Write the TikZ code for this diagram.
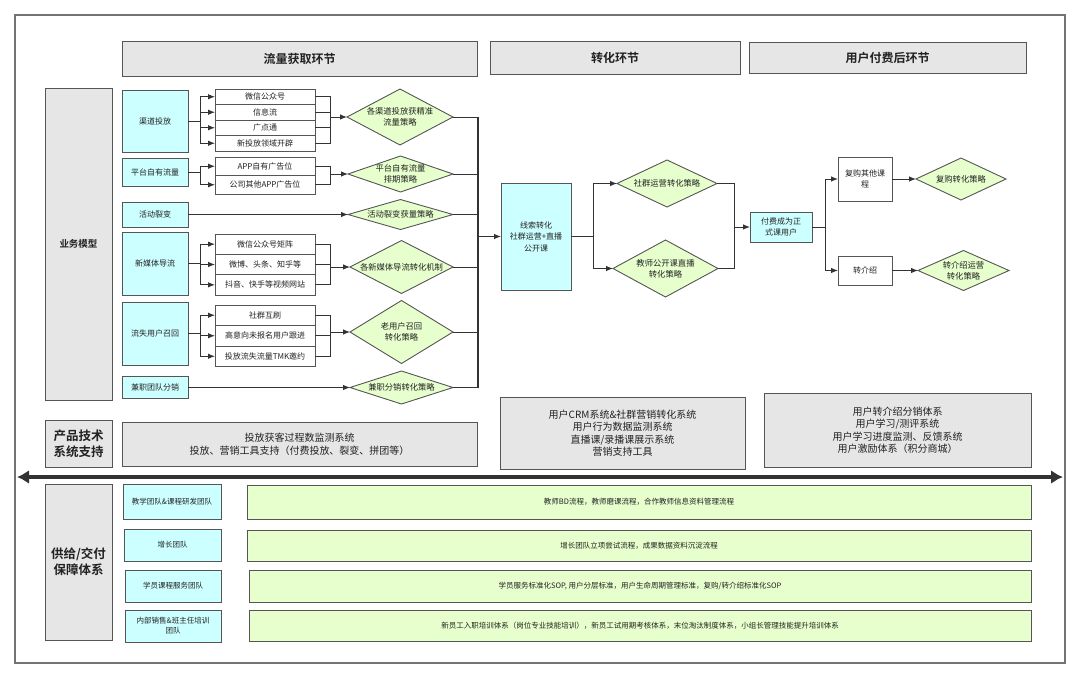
\documentclass[tikz,border=0pt]{standalone}
\usepackage{fontspec}
\setmainfont{Noto Sans CJK SC}[BoldFont=Noto Sans CJK SC Bold]
\usetikzlibrary{shapes.geometric,arrows.meta}
\definecolor{bd}{HTML}{555555}
\definecolor{lnc}{HTML}{333333}
\definecolor{cy}{HTML}{CCFFFF}
\definecolor{gr}{HTML}{E6FFCC}
\definecolor{gy}{HTML}{E6E6E6}
\definecolor{tx}{HTML}{222222}
\newcommand{\fsz}[2]{\fontsize{#1}{#2}\selectfont}
\tikzset{
  base/.style={draw=bd, line width=0.9pt, inner sep=1pt, outer sep=0pt, align=center, text=tx, font=\fsz{8}{11.5}},
  sz/.style 2 args={minimum width=#1pt, minimum height=#2pt},
  cyanbox/.style={base, fill=cy},
  whitebox/.style={base, fill=white},
  graybox/.style={base, fill=gy},
  greenbox/.style={base, fill=gr, font=\fsz{7.5}{9}},
  teambox/.style={base, fill=cy, font=\fsz{7.5}{10}},
  dia/.style={base, diamond, fill=gr, inner sep=0pt, font=\fsz{8.3}{10.8}},
  hdr/.style={graybox, font=\bfseries\fsz{12}{14}},
  ln/.style={draw=lnc, line width=0.9pt},
  arr/.style={ln, -{Latex[length=7pt,width=5.5pt]}},
}
\begin{document}
\begin{tikzpicture}[x=1pt,y=-1pt]
\useasboundingbox (0,0) rectangle (1080,678);
\draw[draw=gray!90!black, line width=1.1pt] (15,15) rectangle (1065,663);

% headers
\node[hdr, sz={355}{35}] (h1) at (299.5,58.5) {流量获取环节};
\node[hdr, sz={250}{33}] (h2) at (615,57.5) {转化环节};
\node[hdr, sz={277}{31}] (h3) at (887.5,57.5) {用户付费后环节};

% left labels
\node[graybox, sz={67}{312}, font=\bfseries\fsz{9.5}{12}] (bm) at (78.5,244) {业务模型};
\node[graybox, sz={67}{47}, font=\bfseries\fsz{12.5}{16}] (pt) at (78.5,443.5) {产品技术\\系统支持};
\node[graybox, sz={67}{156}, font=\bfseries\fsz{12.5}{16}] (gj) at (78.5,562) {供给/交付\\保障体系};

% group 1
\node[cyanbox, sz={66}{62}] (c1) at (155,121) {渠道投放};
\node[whitebox, sz={100}{15.5}] (s11) at (265,96.75) {微信公众号};
\node[whitebox, sz={100}{15.5}] (s12) at (265,112.25) {信息流};
\node[whitebox, sz={100}{15.5}] (s13) at (265,127.75) {广点通};
\node[whitebox, sz={100}{15.5}] (s14) at (265,143.25) {新投放领域开辟};
\node[dia, sz={106}{56}, aspect=1.89] (d1) at (400,117) {各渠道投放获精准\\流量策略};

% group 2
\node[cyanbox, sz={66}{28}] (c2) at (155,172) {平台自有流量};
\node[whitebox, sz={100}{18.5}] (s21) at (265,166.25) {APP自有广告位};
\node[whitebox, sz={100}{18.5}] (s22) at (265,184.75) {公司其他APP广告位};
\node[dia, sz={105}{36}, aspect=2.9] (d2) at (400.5,174) {平台自有流量\\排期策略};

% group 3
\node[cyanbox, sz={66}{25}] (c3) at (155,214.5) {活动裂变};
\node[dia, sz={105}{30}, aspect=3.5] (d3) at (400.5,214.5) {活动裂变获量策略};

% group 4
\node[cyanbox, sz={66}{63}] (c4) at (155,263.5) {新媒体导流};
\node[whitebox, sz={100}{20.33}] (s41) at (265,244.17) {微信公众号矩阵};
\node[whitebox, sz={100}{20.33}] (s42) at (265,264.5) {微博、头条、知乎等};
\node[whitebox, sz={100}{20.33}] (s43) at (265,284.83) {抖音、快手等视频网站};
\node[dia, sz={103}{53}, aspect=1.94] (d4) at (401.5,267) {各新媒体导流转化机制};

% group 5
\node[cyanbox, sz={66}{63}] (c5) at (155,333.5) {流失用户召回};
\node[whitebox, sz={100}{20.5}] (s51) at (265,315.25) {社群互刷};
\node[whitebox, sz={100}{20.5}] (s52) at (265,335.75) {高意向未报名用户跟进};
\node[whitebox, sz={100}{20.5}] (s53) at (265,356.25) {投放流失流量TMK邀约};
\node[dia, sz={103}{63}, aspect=1.63] (d5) at (401.5,332) {老用户召回\\转化策略};

% group 6
\node[cyanbox, sz={66}{22}] (c6) at (155,387.5) {兼职团队分销};
\node[dia, sz={103}{33}, aspect=3.12] (d6) at (401.5,387.5) {兼职分销转化策略};

% conversion
\node[cyanbox, sz={70}{107}] (L) at (536,236.5) {线索转化\\社群运营+直播\\公开课};
\node[dia, sz={100}{47}, aspect=2.13] (D1) at (667,183.5) {社群运营转化策略};
\node[dia, sz={105}{57}, aspect=1.84] (D2) at (665.5,268.5) {教师公开课直播\\转化策略};
\node[cyanbox, sz={62}{30}] (P) at (781,227) {付费成为正\\式课用户};
\node[whitebox, sz={54}{44}] (R1) at (865,179) {复购其他课\\程};
\node[whitebox, sz={54}{29}] (R2) at (865,270.5) {转介绍};
\node[dia, sz={90}{42}, aspect=2.14] (RD1) at (961,179) {复购转化策略};
\node[dia, sz={91}{40}, aspect=2.27] (RD2) at (963.5,270.5) {转介绍运营\\转化策略};

% product tech
\node[graybox, sz={355}{44}, font=\fsz{10}{13.3}] (t2) at (299.5,444) {投放获客过程数监测系统\\投放、营销工具支持（付费投放、裂变、拼团等）};
\node[graybox, sz={245}{72}, font=\fsz{10}{12.5}] (t3) at (622.5,433) {用户CRM系统\&社群营销转化系统\\用户行为数据监测系统\\直播课/录播课展示系统\\营销支持工具};
\node[graybox, sz={267}{74}, font=\fsz{10}{12.5}] (t4) at (897.5,430) {用户转介绍分销体系\\用户学习/测评系统\\用户学习进度监测、反馈系统\\用户激励体系（积分商城）};

% thick double arrow
\coordinate (aL) at (17,477);
\coordinate (aR) at (1063,477);
\draw[draw=lnc, line width=4.5pt, {Latex[length=12pt,width=14pt]}-{Latex[length=12pt,width=14pt]}] (aL) -- (aR);

% supply
\node[teambox, sz={98}{35}] (k1) at (172,501.5) {教学团队\&课程研发团队};
\node[teambox, sz={97}{32}] (k2) at (172.5,545) {增长团队};
\node[teambox, sz={96}{32}] (k3) at (173,586) {学员课程服务团队};
\node[teambox, sz={96}{32}] (k4) at (173,626) {内部销售\&班主任培训\\团队};
\node[greenbox, sz={784}{34}] (e1) at (639,502) {教师BD流程，教师磨课流程，合作教师信息资料管理流程};
\node[greenbox, sz={784}{31}] (e2) at (639,545.5) {增长团队立项尝试流程，成果数据资料沉淀流程};
\node[greenbox, sz={782}{32}] (e3) at (640,586) {学员服务标准化SOP, 用户分层标准，用户生命周期管理标准，复购/转介绍标准化SOP};
\node[greenbox, sz={782}{31}] (e4) at (640,625.5) {新员工入职培训体系（岗位专业技能培训），新员工试用期考核体系，末位淘汰制度体系，小组长管理技能提升培训体系};

% connectors group 1
\coordinate (b1) at (200,121);
\draw[ln] (c1.east) -- (b1);
\foreach \i in {1,...,4} {\draw[arr] (b1) |- (s1\i.west);}
\coordinate (m1) at (330,117);
\foreach \i in {1,...,4} {\draw[ln] (s1\i.east) -| (m1);}
\draw[arr] (m1) -- (d1.west);
% group 2
\coordinate (b2) at (200,172);
\draw[ln] (c2.east) -- (b2);
\foreach \i in {1,2} {\draw[arr] (b2) |- (s2\i.west);}
\coordinate (m2) at (330,174);
\foreach \i in {1,2} {\draw[ln] (s2\i.east) -| (m2);}
\draw[arr] (m2) -- (d2.west);
% group 3
\draw[arr] (c3.east) -- (d3.west);
% group 4
\coordinate (b4) at (200,263.5);
\draw[ln] (c4.east) -- (b4);
\foreach \i in {1,2,3} {\draw[arr] (b4) |- (s4\i.west);}
\coordinate (m4) at (330,267);
\foreach \i in {1,2,3} {\draw[ln] (s4\i.east) -| (m4);}
\draw[arr] (m4) -- (d4.west);
% group 5
\coordinate (b5) at (200,333.5);
\draw[ln] (c5.east) -- (b5);
\foreach \i in {1,2,3} {\draw[arr] (b5) |- (s5\i.west);}
\coordinate (m5) at (330,332);
\foreach \i in {1,2,3} {\draw[ln] (s5\i.east) -| (m5);}
\draw[arr] (m5) -- (d5.west);
% group 6
\draw[arr] (c6.east) -- (d6.west);

% collector
\coordinate (v1) at (478,117);
\coordinate (v2) at (478,174);
\coordinate (v3) at (478,214.5);
\coordinate (v4) at (478,267);
\coordinate (v5) at (478,332);
\coordinate (v6) at (478,387.5);
\draw[ln] (d1.east) -- (v1);
\draw[ln] (d2.east) -- (v2);
\draw[ln] (d3.east) -- (v3);
\draw[ln] (d4.east) -- (v4);
\draw[ln] (d5.east) -- (v5);
\draw[ln] (d6.east) -- (v6);
\draw[ln, line width=1.2pt] (v1) -- (v6);
\coordinate (vL) at (478,236.5);
\draw[arr] (vL) -- (L.west);

% conversion connectors
\coordinate (b7) at (593,236.5);
\draw[ln] (L.east) -- (b7);
\draw[arr] (b7) |- (D1.west);
\draw[arr] (b7) |- (D2.west);
\coordinate (m7) at (734,227);
\draw[ln] (D1.east) -| (m7);
\draw[ln] (D2.east) -| (m7);
\draw[arr] (m7) -- (P.west);
\coordinate (b8) at (825,227);
\draw[ln] (P.east) -- (b8);
\draw[arr] (b8) |- (R1.west);
\draw[arr] (b8) |- (R2.west);
\draw[arr] (R1.east) -- (RD1.west);
\draw[arr] (R2.east) -- (RD2.west);
\end{tikzpicture}
\end{document}
